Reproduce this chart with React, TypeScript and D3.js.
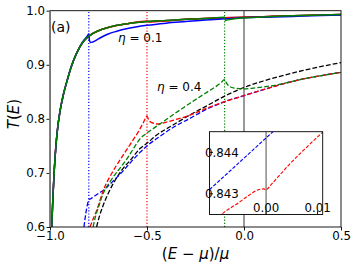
import React, { useRef, useEffect } from "react";
import * as d3 from "d3";

type Pt = [number, number];

// eta = 0.1, solid lines (E, T)
const solidBlack: Pt[] = [
  [-0.991, 0.6], [-0.985, 0.655], [-0.978, 0.705], [-0.97, 0.748], [-0.96, 0.785],
  [-0.948, 0.815], [-0.931, 0.845], [-0.914, 0.868], [-0.89, 0.897], [-0.862, 0.922],
  [-0.83, 0.942], [-0.8, 0.953], [-0.75, 0.963], [-0.7, 0.969], [-0.6, 0.976],
  [-0.5, 0.98], [-0.4, 0.982], [-0.3, 0.984], [-0.2, 0.9855], [-0.1, 0.987],
  [0, 0.988], [0.1, 0.989], [0.2, 0.99], [0.3, 0.991], [0.4, 0.992], [0.5, 0.993],
];
const solidRed: Pt[] = [
  [-0.991, 0.6], [-0.985, 0.655], [-0.978, 0.705], [-0.97, 0.748], [-0.96, 0.785],
  [-0.948, 0.815], [-0.931, 0.845], [-0.914, 0.868], [-0.89, 0.897], [-0.862, 0.922],
  [-0.83, 0.942], [-0.8, 0.953], [-0.75, 0.963], [-0.7, 0.969], [-0.6, 0.976],
  [-0.5, 0.981], [-0.49, 0.979], [-0.4, 0.981], [-0.3, 0.984], [-0.2, 0.9855],
  [-0.1, 0.987], [0, 0.988], [0.1, 0.989], [0.2, 0.99], [0.3, 0.991], [0.4, 0.992], [0.5, 0.993],
];
const solidBlue: Pt[] = [
  [-0.991, 0.6], [-0.985, 0.655], [-0.978, 0.705], [-0.97, 0.748], [-0.96, 0.785],
  [-0.948, 0.815], [-0.931, 0.845], [-0.914, 0.868], [-0.89, 0.897], [-0.862, 0.922],
  [-0.83, 0.943], [-0.81, 0.952], [-0.8, 0.957], [-0.797, 0.946], [-0.792, 0.941],
  [-0.78, 0.942], [-0.75, 0.948], [-0.7, 0.957], [-0.656, 0.962], [-0.6, 0.967],
  [-0.5, 0.973], [-0.4, 0.977], [-0.3, 0.98], [-0.2, 0.983], [-0.1, 0.985],
  [0, 0.987], [0.1, 0.988], [0.2, 0.989], [0.3, 0.99], [0.4, 0.991], [0.5, 0.992],
];
const solidGreen: Pt[] = [
  [-0.991, 0.6], [-0.985, 0.655], [-0.978, 0.705], [-0.97, 0.748], [-0.96, 0.785],
  [-0.948, 0.815], [-0.931, 0.845], [-0.914, 0.868], [-0.89, 0.897], [-0.862, 0.922],
  [-0.83, 0.942], [-0.8, 0.953], [-0.75, 0.963], [-0.7, 0.969], [-0.6, 0.976],
  [-0.5, 0.98], [-0.4, 0.982], [-0.3, 0.984], [-0.2, 0.9855], [-0.1, 0.988],
  [-0.095, 0.982], [-0.085, 0.983], [-0.05, 0.985], [0, 0.987], [0.1, 0.9885],
  [0.2, 0.99], [0.3, 0.991], [0.4, 0.992], [0.5, 0.993],
];

// eta = 0.4, dashed lines
const dashedBlack: Pt[] = [
  [-0.76, 0.6], [-0.745, 0.62], [-0.73, 0.636], [-0.7, 0.662], [-0.665, 0.686],
  [-0.63, 0.705], [-0.58, 0.726], [-0.536, 0.745], [-0.5, 0.755], [-0.45, 0.77],
  [-0.364, 0.789], [-0.28, 0.807], [-0.192, 0.824], [-0.1, 0.842], [0, 0.858],
  [0.1, 0.87], [0.2, 0.88], [0.3, 0.889], [0.4, 0.897], [0.5, 0.904],
];
const dashedRed: Pt[] = [
  [-0.794, 0.6], [-0.775, 0.617], [-0.759, 0.631], [-0.725, 0.668], [-0.682, 0.699],
  [-0.639, 0.724], [-0.588, 0.752], [-0.545, 0.776], [-0.52, 0.792], [-0.5, 0.805],
  [-0.49, 0.797], [-0.475, 0.793], [-0.44, 0.7905], [-0.4, 0.794], [-0.33, 0.801],
  [-0.278, 0.807], [-0.192, 0.8195], [-0.1, 0.8317], [0, 0.843], [0.1, 0.854],
  [0.2, 0.8645], [0.3, 0.8735], [0.4, 0.88], [0.5, 0.886],
];
const dashedBlue: Pt[] = [
  [-0.825, 0.6], [-0.815, 0.626], [-0.806, 0.643], [-0.8, 0.651], [-0.792, 0.652],
  [-0.775, 0.656], [-0.75, 0.662], [-0.718, 0.67], [-0.68, 0.683], [-0.63, 0.701],
  [-0.581, 0.721], [-0.536, 0.738], [-0.5, 0.75], [-0.44, 0.766], [-0.364, 0.7845],
  [-0.278, 0.801], [-0.2, 0.8165], [-0.1, 0.8317], [0, 0.843], [0.1, 0.854],
  [0.2, 0.8645], [0.3, 0.8735], [0.4, 0.88], [0.5, 0.886],
];
const dashedGreen: Pt[] = [
  [-0.778, 0.6], [-0.765, 0.62], [-0.75, 0.637], [-0.727, 0.661], [-0.69, 0.684],
  [-0.65, 0.704], [-0.607, 0.724], [-0.57, 0.745], [-0.536, 0.763], [-0.5, 0.774],
  [-0.45, 0.7865], [-0.364, 0.808], [-0.278, 0.829], [-0.192, 0.849], [-0.14, 0.861],
  [-0.115, 0.868], [-0.1, 0.873], [-0.09, 0.866], [-0.075, 0.86], [-0.05, 0.857],
  [0, 0.8555], [0.05, 0.857], [0.1, 0.859], [0.15, 0.8615], [0.2, 0.865],
  [0.3, 0.8735], [0.4, 0.88], [0.5, 0.886],
];

// impurity levels (dotted markers)
const levelValues = [-0.8, -0.5, -0.1];
const levelColors = ["#0000ff", "#ff0000", "#008000"];

const xTicks = [-1.0, -0.5, 0.0, 0.5];
const yTicks = [0.6, 0.7, 0.8, 0.9, 1.0];

// zoomed inset around E = mu
const insetRed: Pt[] = [
  [-0.0085, 0.84252], [-0.0083, 0.84254], [-0.0054, 0.84278], [-0.0034, 0.84296],
  [-0.0015, 0.8431], [-0.0005, 0.84312], [0, 0.8431], [0.0011, 0.84324],
  [0.0043, 0.84368], [0.0075, 0.84408], [0.011, 0.84449],
];
const insetBlue: Pt[] = [
  [-0.011, 0.8431], [-0.005, 0.84378], [0, 0.84435], [0.0025, 0.84463],
];
const insetXTicks = [0.0, 0.01];
const insetYTicks = [0.843, 0.844];

const App = () => {
  const chartRef = useRef<SVGSVGElement>(null);

  useEffect(() => {
    const width = 357;
    const height = 271;
    const font = "DejaVu Sans, sans-serif";

    const svg = d3.select(chartRef.current);
    svg.selectAll("*").remove();
    svg.attr("width", width).attr("height", height);

    const x = d3.scaleLinear().domain([-1, 0.5]).range([50, 341]);
    const y = d3.scaleLinear().domain([0.6, 1.0]).range([227, 10.7]);

    const defs = svg.append("defs");
    defs.append("clipPath").attr("id", "plotClip")
      .append("rect")
      .attr("x", x(-1)).attr("y", y(1.0))
      .attr("width", x(0.5) - x(-1)).attr("height", y(0.6) - y(1.0));

    const line = d3.line<Pt>().x((d) => x(d[0])).y((d) => y(d[1])).curve(d3.curveMonotoneX);

    const plot = svg.append("g").attr("clip-path", "url(#plotClip)");

    // dotted impurity levels
    levelValues.forEach((v, i) => {
      plot.append("line")
        .attr("x1", x(v)).attr("x2", x(v))
        .attr("y1", y(0.6)).attr("y2", y(1.0))
        .attr("stroke", levelColors[i]).attr("stroke-width", 1.2)
        .attr("stroke-dasharray", "1.2,1.9");
    });

    // gray guide lines at E = 0 and E = mu
    [-1, 0].forEach((v) => {
      plot.append("line")
        .attr("x1", x(v)).attr("x2", x(v))
        .attr("y1", y(0.6)).attr("y2", y(1.0))
        .attr("stroke", "#808080").attr("stroke-width", 1.6);
    });

    const dashed: [Pt[], string][] = [
      [dashedBlack, "#000000"], [dashedBlue, "#0000ff"], [dashedRed, "#ff0000"], [dashedGreen, "#008000"],
    ];
    dashed.forEach(([d, c]) => {
      plot.append("path").datum(d).attr("d", line)
        .attr("fill", "none").attr("stroke", c).attr("stroke-width", 1.3)
        .attr("stroke-dasharray", "4.8,2.1");
    });

    const solid: [Pt[], string][] = [
      [solidBlack, "#000000"], [solidRed, "#ff0000"], [solidBlue, "#0000ff"], [solidGreen, "#008000"],
    ];
    solid.forEach(([d, c]) => {
      plot.append("path").datum(d).attr("d", line)
        .attr("fill", "none").attr("stroke", c).attr("stroke-width", 1.5);
    });

    // axes
    const xAxis = svg.append("g").attr("transform", `translate(0,${y(0.6)})`)
      .call(d3.axisBottom(x).tickValues(xTicks).tickFormat(d3.format(".1f")).tickSize(3.5).tickPadding(1.5).tickSizeOuter(0));
    const yAxis = svg.append("g").attr("transform", `translate(${x(-1)},0)`)
      .call(d3.axisLeft(y).tickValues(yTicks).tickFormat(d3.format(".1f")).tickSize(3.5).tickPadding(1.5).tickSizeOuter(0));
    [xAxis, yAxis].forEach((a) => {
      a.select(".domain").remove();
      a.selectAll("text").attr("font-family", font).attr("font-size", 11.8).attr("fill", "#000");
      a.selectAll("line").attr("stroke", "#000").attr("stroke-width", 0.9);
    });

    // spines
    svg.append("rect")
      .attr("x", x(-1)).attr("y", y(1.0))
      .attr("width", x(0.5) - x(-1)).attr("height", y(0.6) - y(1.0))
      .attr("fill", "none").attr("stroke", "#000").attr("stroke-width", 0.9);
    svg.append("line")
      .attr("x1", x(-1)).attr("x2", x(-1)).attr("y1", y(0.6)).attr("y2", y(1.0))
      .attr("stroke", "#808080").attr("stroke-width", 1.6);

    // annotations
    svg.append("text").attr("x", 51).attr("y", 31.5)
      .attr("font-family", font).attr("font-size", 14).text("(a)");

    const eta = (tx: number, ty: number, val: string) => {
      const t = svg.append("text").attr("x", tx).attr("y", ty)
        .attr("font-family", font).attr("font-size", 12);
      t.append("tspan").attr("font-style", "italic").text("η");
      t.append("tspan").text(" = " + val);
    };
    eta(118, 42, "0.1");
    eta(157, 91, "0.4");

    // axis labels
    const xl = svg.append("text").attr("x", 195.5).attr("y", 259)
      .attr("text-anchor", "middle").attr("font-family", font).attr("font-size", 15);
    xl.append("tspan").text("(");
    xl.append("tspan").attr("font-style", "italic").text("E");
    xl.append("tspan").text(" − ");
    xl.append("tspan").attr("font-style", "italic").text("μ");
    xl.append("tspan").text(")/");
    xl.append("tspan").attr("font-style", "italic").text("μ");

    const yl = svg.append("text")
      .attr("transform", "translate(19,114) rotate(-90)")
      .attr("text-anchor", "middle").attr("font-family", font).attr("font-size", 15);
    yl.append("tspan").attr("font-style", "italic").text("T");
    yl.append("tspan").text("(");
    yl.append("tspan").attr("font-style", "italic").text("E");
    yl.append("tspan").text(")");

    // inset
    const ix = d3.scaleLinear().domain([-0.011, 0.011]).range([209.5, 322.7]);
    const iy = d3.scaleLinear().domain([0.8425, 0.8445]).range([214.5, 131.7]);

    defs.append("clipPath").attr("id", "insetClip")
      .append("rect")
      .attr("x", ix(-0.011)).attr("y", iy(0.8445))
      .attr("width", ix(0.011) - ix(-0.011)).attr("height", iy(0.8425) - iy(0.8445));

    svg.append("rect")
      .attr("x", ix(-0.011)).attr("y", iy(0.8445))
      .attr("width", ix(0.011) - ix(-0.011)).attr("height", iy(0.8425) - iy(0.8445))
      .attr("fill", "#fff");

    const inset = svg.append("g").attr("clip-path", "url(#insetClip)");
    inset.append("line")
      .attr("x1", ix(0)).attr("x2", ix(0)).attr("y1", iy(0.8425)).attr("y2", iy(0.8445))
      .attr("stroke", "#808080").attr("stroke-width", 1.4);

    const iline = d3.line<Pt>().x((d) => ix(d[0])).y((d) => iy(d[1])).curve(d3.curveMonotoneX);
    inset.append("path").datum(insetBlue).attr("d", iline)
      .attr("fill", "none").attr("stroke", "#0000ff").attr("stroke-width", 1.1)
      .attr("stroke-dasharray", "3.6,1.6");
    inset.append("path").datum(insetRed).attr("d", iline)
      .attr("fill", "none").attr("stroke", "#ff0000").attr("stroke-width", 1.1)
      .attr("stroke-dasharray", "3.6,1.6");

    svg.append("rect")
      .attr("x", ix(-0.011)).attr("y", iy(0.8445))
      .attr("width", ix(0.011) - ix(-0.011)).attr("height", iy(0.8425) - iy(0.8445))
      .attr("fill", "none").attr("stroke", "#000").attr("stroke-width", 0.9);

    insetXTicks.forEach((v) => {
      svg.append("line")
        .attr("x1", ix(v)).attr("x2", ix(v))
        .attr("y1", iy(0.8425)).attr("y2", iy(0.8425) - 3.5)
        .attr("stroke", "#000").attr("stroke-width", 0.9);
      svg.append("text").attr("x", ix(v)).attr("y", iy(0.8425) - 2.8)
        .attr("text-anchor", "middle").attr("font-family", font).attr("font-size", 11.8)
        .text(d3.format(".2f")(v));
    });
    insetYTicks.forEach((v) => {
      svg.append("line")
        .attr("x1", ix(-0.011)).attr("x2", ix(-0.011) + 3.5)
        .attr("y1", iy(v)).attr("y2", iy(v))
        .attr("stroke", "#000").attr("stroke-width", 0.9);
      svg.append("text").attr("x", ix(-0.011) - 4.5).attr("y", iy(v)).attr("dy", "0.36em")
        .attr("font-family", font).attr("font-size", 11.8)
        .text(d3.format(".3f")(v));
    });
  }, []);

  return (
    <svg ref={chartRef} style={{ position: "absolute", left: 0, top: 0, background: "#fff" }}></svg>
  );
};

export default App;
